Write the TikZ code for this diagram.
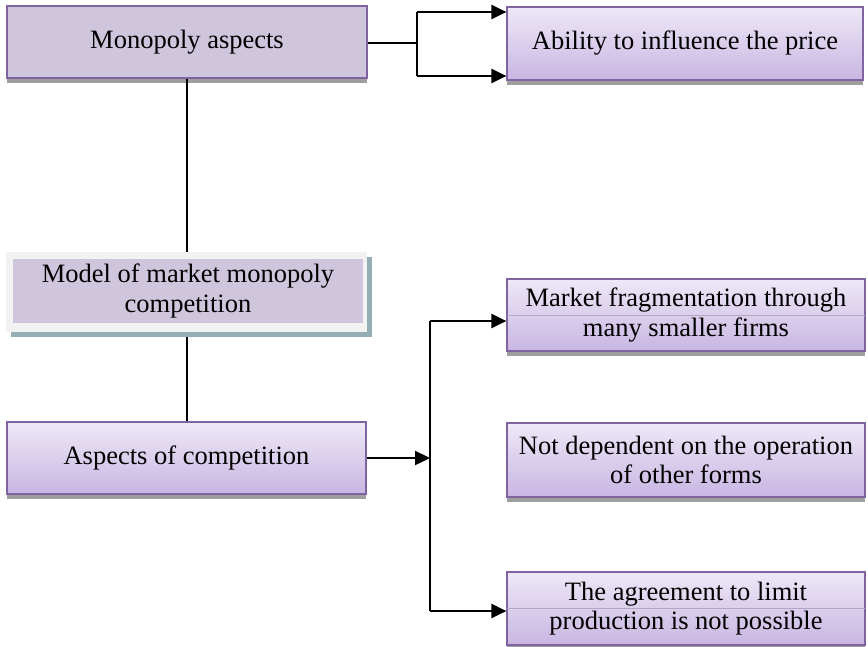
\documentclass[tikz,border=0pt]{standalone}
\usepackage{fontspec}
\setmainfont{Liberation Serif}
\usetikzlibrary{arrows.meta,shadows}
\definecolor{pborder}{HTML}{8064A2}
\definecolor{flatfill}{HTML}{CFC6DD}
\definecolor{gtop}{HTML}{EEE8F7}
\definecolor{gbot}{HTML}{C8B6E2}
\definecolor{shadowgray}{HTML}{9E9E9E}
\definecolor{tealshadow}{HTML}{93AEB5}
\definecolor{framefill}{HTML}{F2F2F2}
\definecolor{glossline}{HTML}{B4A6C6}
\begin{document}
\begin{tikzpicture}[x=1pt,y=-1pt,
  boxfont/.style={font=\fontsize{26.5}{29.5}\selectfont},
  box/.style={draw=pborder, line width=1.2pt, minimum width=358pt, minimum height=72pt,
    inner sep=0pt, align=center, boxfont},
  grayshadow/.style={drop shadow={shadow xshift=0pt, shadow yshift=-5pt, opacity=1, fill=shadowgray}},
  flatbox/.style={box, fill=flatfill, grayshadow},
  gradbox/.style={box, top color=gtop, bottom color=gbot, grayshadow},
  conn/.style={line width=2.4pt, black},
  arr/.style={conn, -{Triangle[length=15pt,width=14pt]}},
  gloss/.style={glossline, line width=0.8pt}
]
\useasboundingbox (0,0) rectangle (868,646);

% nodes
\node[flatbox, minimum width=360pt] (mono) at (187,42) {Monopoly aspects};
\node[gradbox, minimum width=356pt, minimum height=73pt] (abil) at (685,43.5) {Ability to influence the price};

\node[fill=framefill, minimum width=361pt, minimum height=80pt, inner sep=0pt,
  drop shadow={shadow xshift=5pt, shadow yshift=-5pt, opacity=1, fill=tealshadow}] (modelframe) at (186.5,292) {};
\node[fill=flatfill, minimum width=350pt, minimum height=64pt, inner sep=0pt, align=center,
  boxfont] (model) at (188,291) {Model of market monopoly\\competition};

\node[gradbox, minimum width=359pt] (aspects) at (186.5,458) {Aspects of competition};

\node[gradbox] (mkt) at (686,315) {};
\draw[gloss] ([xshift=1pt]mkt.west) -- ([xshift=-1pt]mkt.east);
\node[align=center, boxfont, inner sep=0pt] (mkttext) at (mkt.center) {Market fragmentation through\\many smaller firms};

\node[gradbox, minimum height=74pt] (indep) at (686,460) {Not dependent on the operation\\of other forms};

\node[gradbox, minimum height=73pt] (agree) at (686,608.5) {};
\draw[gloss] ([xshift=1pt]agree.west) -- ([xshift=-1pt]agree.east);
\node[align=center, boxfont, inner sep=0pt] (agreetext) at (agree.center) {The agreement to limit\\production is not possible};

% junction coordinates
\coordinate (j1) at (417,43);
\coordinate (j1t) at (417,12);
\coordinate (j1b) at (417,76);
\coordinate (bt) at (430,321);
\coordinate (bb) at (430,611);

% connectors
\draw[conn] (mono.east |- j1) -- (j1);
\draw[conn] (j1t) -- (j1b);
\draw[arr] (j1t) -- (abil.west |- j1t);
\draw[arr] (j1b) -- (abil.west |- j1b);

\draw[conn] (mono.south) -- (modelframe.north -| mono.south);
\draw[conn] ([yshift=-5pt]modelframe.south -| mono.south) -- (aspects.north -| mono.south);

\draw[conn] (bt) -- (bb);
\draw[arr] (aspects.east) -- (aspects.east -| bt);
\draw[arr] (bt) -- (mkt.west |- bt);
\draw[arr] (bb) -- (agree.west |- bb);
\end{tikzpicture}
\end{document}
